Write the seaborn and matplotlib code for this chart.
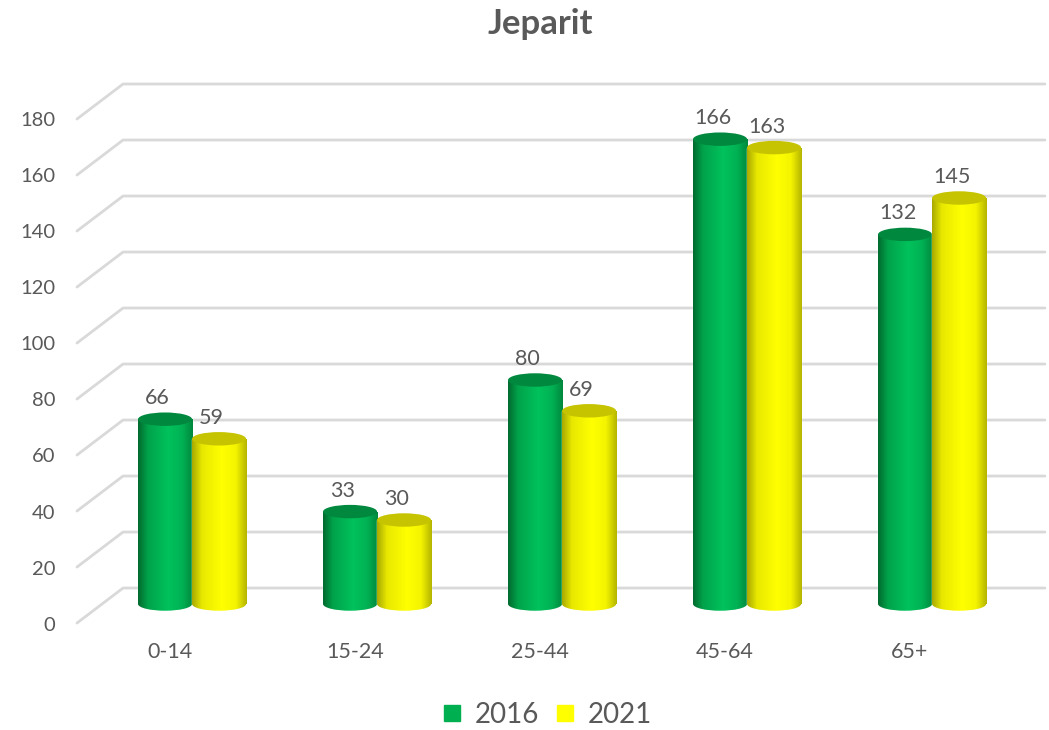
import numpy as np
import pandas as pd
import matplotlib
matplotlib.use("Agg")
import matplotlib.pyplot as plt
import seaborn as sns
from matplotlib.patches import Ellipse
from matplotlib.lines import Line2D
from matplotlib.colors import LinearSegmentedColormap

# data
groups = ["0-14", "15-24", "25-44", "45-64", "65+"]
years = ["2016", "2021"]
values_2016 = [66, 33, 80, 166, 132]
values_2021 = [59, 30, 69, 163, 145]
yticks = [0, 20, 40, 60, 80, 100, 120, 140, 160, 180]

colors = ["#00B050", "#FFFF00"]
top_colors = ["#00883e", "#c6c400"]
body_grads = [
    ["#006a2e", "#00a24a", "#00c25c", "#00b254", "#00883e"],
    ["#a8a800", "#e8e800", "#ffff00", "#f4f400", "#b4b400"],
]
text_col = "#595959"
grid_col = "#d9d9d9"

df = pd.DataFrame({
    "group": groups * 2,
    "year": [years[0]] * 5 + [years[1]] * 5,
    "value": values_2016 + values_2021,
})

sns.set_theme(style="white")
plt.rcParams["font.family"] = ["Lato", "DejaVu Sans"]

fig = plt.figure(figsize=(10.49, 7.30), dpi=100)
ax = fig.add_axes([0, 0.0767, 1, 0.8247])

sns.barplot(data=df, x="group", y="value", hue="year", palette=colors,
            width=0.584, ax=ax, legend=False, saturation=1, zorder=2)

back = 5.7      # back wall offset (value units)
front = -6.8    # front edge of side wall
x_front, x_back, x_end = -0.622, -0.373, 4.61
for v in yticks:
    ax.plot([x_front, x_back, x_end], [v + front, v + back, v + back],
            color=grid_col, lw=2, zorder=1, solid_capstyle="round")
    ax.text(-0.74, v - 7.5, str(v), ha="right", va="center",
            fontsize=14.5, color=text_col)

for i, g in enumerate(groups):
    ax.text(i - 0.12, -17, g, ha="center", va="center", fontsize=15.5, color=text_col)

cap_h = 4.8
grad = np.linspace(0, 1, 256)[None, :]
for k, cont in enumerate(ax.containers):
    cmap = LinearSegmentedColormap.from_list(f"c{k}", list(zip([0, 0.18, 0.55, 0.8, 1], body_grads[k])))
    z = 2 + k
    for bar in cont:
        x0, w, h = bar.get_x(), bar.get_width(), bar.get_height()
        xc = x0 + w / 2
        bar.set_zorder(z)
        im = ax.imshow(grad, cmap=cmap, aspect="auto", extent=(x0, x0 + w, 0, h),
                       zorder=z + 0.1, interpolation="bilinear")
        im.set_clip_path(bar)
        bot = Ellipse((xc, 0), w, cap_h, facecolor="none", edgecolor="none")
        ax.add_patch(bot)
        im2 = ax.imshow(grad, cmap=cmap, aspect="auto",
                        extent=(x0, x0 + w, -cap_h / 2, cap_h / 2),
                        zorder=z + 0.1, interpolation="bilinear")
        im2.set_clip_path(bot)
        ax.add_patch(Ellipse((xc, h), w, cap_h, facecolor=top_colors[k],
                             edgecolor="none", zorder=z + 0.2))
        ax.text(xc - 0.04, h + 7.5, f"{h:.0f}", ha="center", va="center",
                fontsize=15.5, color=text_col, zorder=10)

ax.set_xlim(-1.038, 4.632)
ax.set_ylim(-25, 190)
ax.axis("off")

fig.text(0.515, 1 - 24 / 730, "Jeparit", ha="center", va="center",
         fontsize=25, fontweight="bold", color=text_col)

handles = [Line2D([], [], marker="s", linestyle="", markersize=12, color=c) for c in colors]
fig.legend(handles, years, loc="center", bbox_to_anchor=(0.521, 1 - 715 / 730), ncol=2,
           frameon=False, fontsize=20, handlelength=0.8, handletextpad=0.4,
           columnspacing=0.55, labelcolor=text_col)

fig.savefig("out.png", dpi=100)
